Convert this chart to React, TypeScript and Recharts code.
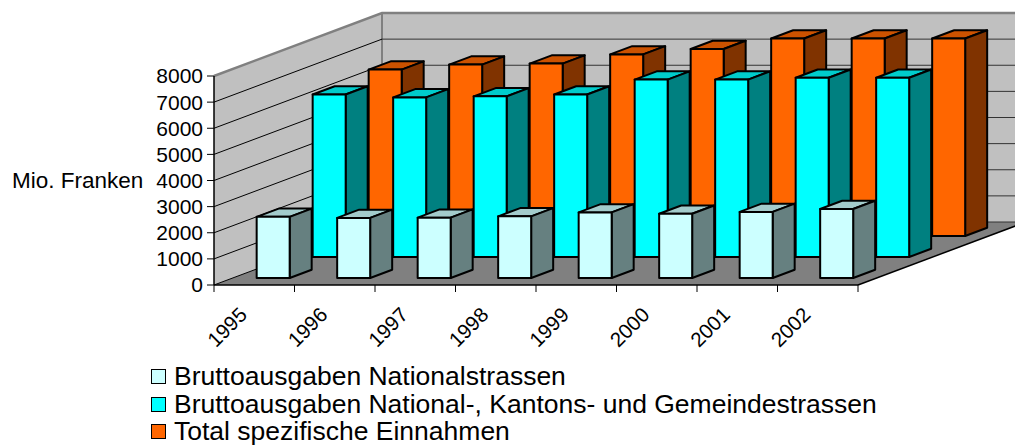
import React from 'react';
import { BarChart, Bar, XAxis, YAxis, CartesianGrid, Legend } from 'recharts';

// values (Mio. Franken)
const years = ['1995', '1996', '1997', '1998', '1999', '2000', '2001', '2002'];
const nationalExpenses = [2340, 2300, 2310, 2360, 2510, 2460, 2530, 2640];
const allRoadsExpenses = [6220, 6110, 6150, 6220, 6790, 6790, 6860, 6860];
const revenues = [6370, 6560, 6600, 6950, 7160, 7560, 7560, 7560];
const yTicks = [0, 1000, 2000, 3000, 4000, 5000, 6000, 7000, 8000];

const data = years.map((year, i) => ({
  year,
  national: nationalExpenses[i],
  allRoads: allRoadsExpenses[i],
  revenue: revenues[i],
}));

// series, front row first
const series = [
  { key: 'national', name: 'Bruttoausgaben Nationalstrassen', front: '#CCFFFF', top: '#A3CCCC', side: '#668080' },
  { key: 'allRoads', name: 'Bruttoausgaben National-, Kantons- und Gemeindestrassen', front: '#00FFFF', top: '#00CCCC', side: '#008080' },
  { key: 'revenue', name: 'Total spezifische Einnahmen', front: '#FF6600', top: '#CC5200', side: '#803300' },
];

// layout of the pseudo-3d box
const W = 1015;
const H = 445;
const PLOT_LEFT = 214;
const PLOT_RIGHT = 858;
const PLOT_TOP = 76;
const PLOT_BOTTOM = 285;
const DEPTH_X = 168;
const DEPTH_Y = 63;
const SLOT = 1 / series.length;
const BAR_DEPTH = 0.393;
const FONT = '"Liberation Sans", Arial, sans-serif';

const Prism = (props: any) => {
  const { x, y, width, height, row, color } = props;
  if (width == null || height == null) return null;
  const ox = DEPTH_X * SLOT * (row + 1 / 3);
  const oy = DEPTH_Y * SLOT * (row + 1 / 3);
  const bx = DEPTH_X * SLOT * BAR_DEPTH;
  const by = DEPTH_Y * SLOT * BAR_DEPTH;
  const l = x + ox;
  const r = l + width;
  const t = y - oy;
  const b = t + height;
  const stroke = { stroke: '#000', strokeWidth: 2, strokeLinejoin: 'round' as const };
  return (
    <g>
      <polygon points={`${l},${t} ${l + bx},${t - by} ${r + bx},${t - by} ${r},${t}`} fill={color.top} {...stroke} />
      <polygon points={`${r},${t} ${r + bx},${t - by} ${r + bx},${b - by} ${r},${b}`} fill={color.side} {...stroke} />
      <rect x={l} y={t} width={width} height={height} fill={color.front} {...stroke} />
    </g>
  );
};

const GridLine = (props: any) => {
  const { x1, y1, index } = props;
  if (Math.abs(y1 - PLOT_TOP) < 0.5) return <g key={`g-${index}`} />;
  return (
    <g key={`g-${index}`}>
      <line x1={x1} y1={y1} x2={x1 + DEPTH_X} y2={y1 - DEPTH_Y} stroke="#000" strokeWidth={1} />
      <line x1={x1 + DEPTH_X} y1={y1 - DEPTH_Y} x2={W} y2={y1 - DEPTH_Y} stroke="#333" strokeWidth={1} />
    </g>
  );
};

const YearTick = (props: any) => {
  const { x, payload, index } = props;
  const bw = (PLOT_RIGHT - PLOT_LEFT) / years.length;
  const ax = x - 6;
  const ay = PLOT_BOTTOM + 31;
  return (
    <g>
      <line x1={x - bw / 2} y1={PLOT_BOTTOM} x2={x - bw / 2} y2={PLOT_BOTTOM + 7} stroke="#000" />
      {index === years.length - 1 && (
        <line x1={x + bw / 2} y1={PLOT_BOTTOM} x2={x + bw / 2} y2={PLOT_BOTTOM + 7} stroke="#000" />
      )}
      <text x={ax} y={ay} textAnchor="end" fontSize={20.5} fill="#000" fontFamily={FONT} transform={`rotate(-45, ${ax}, ${ay})`}>
        {payload.value}
      </text>
    </g>
  );
};

const LegendBox = () => (
  <div style={{ fontFamily: FONT, fontSize: 26.5, color: '#000' }}>
    {series.map((s) => (
      <div key={s.key} style={{ display: 'flex', alignItems: 'center', height: 27.5, whiteSpace: 'nowrap' }}>
        <span style={{ display: 'inline-block', width: 13, height: 13, background: s.front, border: '1.5px solid #000', marginRight: 8 }} />
        <span>{s.name}</span>
      </div>
    ))}
  </div>
);

const Walls = () => (
  <svg width={W} height={H} style={{ position: 'absolute', left: 0, top: 0 }}>
    <polygon
      points={`${PLOT_LEFT},${PLOT_BOTTOM} ${PLOT_LEFT},${PLOT_TOP} ${PLOT_LEFT + DEPTH_X},${PLOT_TOP - DEPTH_Y} ${PLOT_LEFT + DEPTH_X},${PLOT_BOTTOM - DEPTH_Y}`}
      fill="#C0C0C0"
    />
    <polygon
      points={`${PLOT_LEFT + DEPTH_X},${PLOT_BOTTOM - DEPTH_Y} ${PLOT_LEFT + DEPTH_X},${PLOT_TOP - DEPTH_Y} ${W + 20},${PLOT_TOP - DEPTH_Y} ${W + 20},${PLOT_BOTTOM - DEPTH_Y}`}
      fill="#C0C0C0"
    />
    <polygon
      points={`${PLOT_LEFT},${PLOT_BOTTOM} ${PLOT_RIGHT},${PLOT_BOTTOM} ${PLOT_RIGHT + DEPTH_X},${PLOT_BOTTOM - DEPTH_Y} ${PLOT_LEFT + DEPTH_X},${PLOT_BOTTOM - DEPTH_Y}`}
      fill="#808080"
    />
    <polyline
      points={`${PLOT_LEFT},${PLOT_TOP} ${PLOT_LEFT + DEPTH_X},${PLOT_TOP - DEPTH_Y} ${W + 20},${PLOT_TOP - DEPTH_Y}`}
      fill="none"
      stroke="#808080"
      strokeWidth={2.5}
    />
    <line x1={PLOT_LEFT + DEPTH_X} y1={PLOT_TOP - DEPTH_Y} x2={PLOT_LEFT + DEPTH_X} y2={PLOT_BOTTOM - DEPTH_Y} stroke="#808080" strokeWidth={2} />
    <line x1={PLOT_RIGHT} y1={PLOT_BOTTOM} x2={PLOT_RIGHT + DEPTH_X} y2={PLOT_BOTTOM - DEPTH_Y} stroke="#000" strokeWidth={1.5} />
  </svg>
);

export default function App() {
  // back rows first so the front rows paint over them
  const drawOrder = [2, 1, 0];
  return (
    <div style={{ position: 'absolute', left: 0, top: 0, width: W, height: H, background: '#fff', fontFamily: FONT, overflow: 'hidden' }}>
      <Walls />
      <BarChart
        width={W}
        height={H}
        data={data}
        margin={{ top: PLOT_TOP, right: W - PLOT_RIGHT, bottom: H - PLOT_BOTTOM - 30, left: 0 }}
        style={{ position: 'absolute', left: 0, top: 0 }}
      >
        <CartesianGrid vertical={false} horizontal={(p: any) => <GridLine {...p} />} />
        <XAxis
          xAxisId={0}
          dataKey="year"
          height={30}
          axisLine={{ stroke: '#000', strokeWidth: 1.5 }}
          tickLine={false}
          tickSize={0}
          tickMargin={0}
          interval={0}
          tick={<YearTick />}
        />
        <XAxis xAxisId={1} dataKey="year" hide />
        <XAxis xAxisId={2} dataKey="year" hide />
        <YAxis
          width={PLOT_LEFT}
          domain={[0, 8000]}
          ticks={yTicks}
          interval={0}
          axisLine={{ stroke: '#000', strokeWidth: 1.5 }}
          tickLine={{ stroke: '#000' }}
          tickSize={7}
          tickMargin={4}
          tick={{ fontSize: 21, fill: '#000', fontFamily: FONT }}
          label={{ value: 'Mio. Franken', position: 'insideLeft', offset: 12, style: { fontSize: 22.5, fill: '#000', fontFamily: FONT, textAnchor: 'start' } }}
        />
        {drawOrder.map((row) => (
          <Bar
            key={series[row].key}
            xAxisId={row}
            dataKey={series[row].key}
            name={series[row].name}
            barSize={33}
            isAnimationActive={false}
            shape={(p: any) => <Prism {...p} row={row} color={series[row]} />}
          />
        ))}
        <Legend
          layout="vertical"
          align="center"
          verticalAlign="middle"
          wrapperStyle={{ left: 151, top: 363, width: 'auto', height: 'auto' }}
          content={() => <LegendBox />}
        />
      </BarChart>
    </div>
  );
}
